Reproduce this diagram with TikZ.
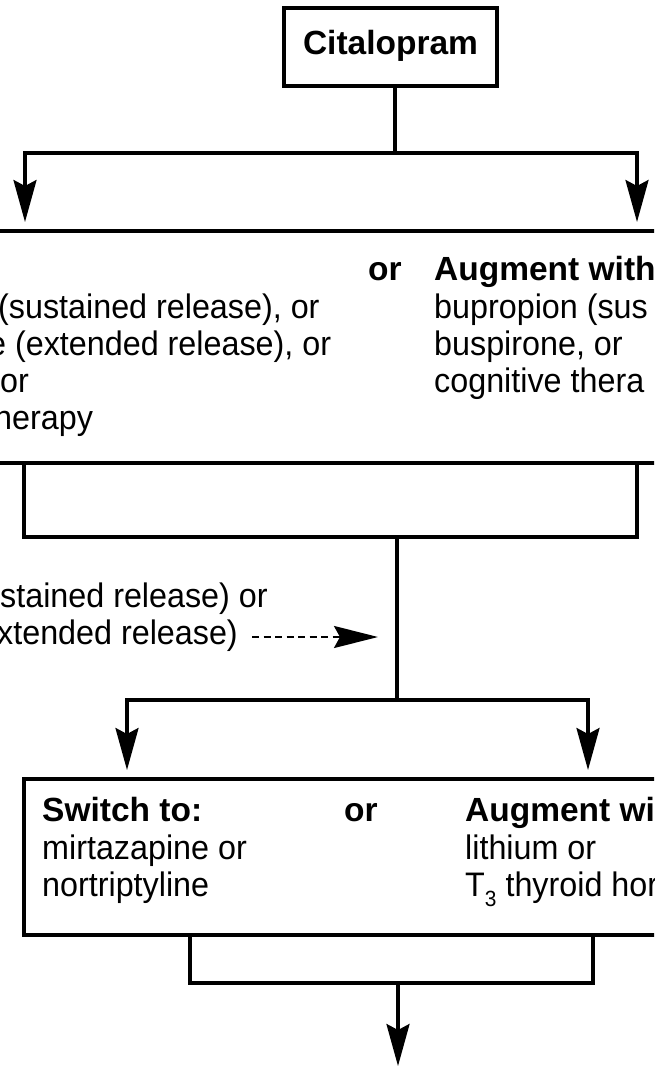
\documentclass[tikz,border=0pt]{standalone}
\usepackage{fontspec}
\setmainfont{Liberation Sans}[FakeStretch=0.95]
\newfontfamily\boldsans{Liberation Sans Bold}
\usetikzlibrary{arrows.meta}
\tikzset{
  box/.style={draw, line width=3.2pt, rectangle, inner sep=0pt},
  flow/.style={line width=3.2pt},
  arr/.style={flow, -{Stealth[length=42pt, width=23pt, inset=6pt]}},
  darr/.style={line width=2.5pt, dash pattern=on 7pt off 4.5pt, -{Stealth[length=44pt, width=22pt, inset=6pt]}},
  txt/.style={anchor=base west, inner sep=0pt, font=\fontsize{34}{37}\selectfont},
  btxt/.style={anchor=base west, inner sep=0pt, font=\fontsize{33.5}{37}\selectfont\boldsans},
}
\begin{document}
\begin{tikzpicture}[x=1pt, y=-1pt]
\path[use as bounding box] (0,0) rectangle (654,1067);
\clip (0,0) rectangle (654,1067);
% boxes
\node[box, minimum width=213pt, minimum height=78pt] (cit) at (390.5,47) {};
\node[anchor=center, inner sep=0pt, font=\fontsize{33.5}{37}\selectfont\boldsans] (citt) at (390.5,46) {Citalopram};
\node[box, minimum width=1100pt, minimum height=232pt] (box1) at (350,347) {};
\node[box, minimum width=876pt, minimum height=156pt] (box2) at (462,857) {};
% junction coordinates
\coordinate (j1) at (395,153);
\coordinate (l1) at (25,153);
\coordinate (r1) at (637,153);
\coordinate (l1t) at (25,222);
\coordinate (r1t) at (637,222);
\coordinate (bl) at (24,537);
\coordinate (br) at (637,537);
\coordinate (j2) at (397,537);
\coordinate (j3) at (397,700);
\coordinate (l2) at (127,700);
\coordinate (r2) at (588,700);
\coordinate (l2t) at (127,770);
\coordinate (r2t) at (588,770);
\coordinate (cl) at (190,983);
\coordinate (cr) at (593,983);
\coordinate (c3) at (398,983);
\coordinate (end) at (398,1066);
\coordinate (ds) at (252,637);
\coordinate (de) at (378,637);
% connectors
\draw[flow] (cit.south -| j1) -- (j1);
\draw[arr] (j1) -- (l1) -- (l1t);
\draw[arr] (j1) -- (r1) -- (r1t);
\draw[flow] (box1.south -| bl) -- (bl) -- (br) -- (box1.south -| br);
\draw[flow] (j2) -- (j3);
\draw[arr] (j3) -- (l2) -- (l2t);
\draw[arr] (j3) -- (r2) -- (r2t);
\draw[flow] (box2.south -| cl) -- (cl) -- (cr) -- (box2.south -| cr);
\draw[arr] (c3) -- (end);
\draw[darr] (ds) -- (de);
% box1 texts
\node[btxt] (or1) at (368,280) {or};
\node[btxt] (aug1) at (434,280) {Augment with};
\node[txt] (s1) at (-2,318) {(sustained release), or};
\node[txt] (s2) at (-12,355) {e (extended release), or};
\node[txt] (s3) at (0,392) {or};
\node[txt] (s4) at (-6,429) {herapy};
\node[txt] (a1) at (434,318) {bupropion (sus};
\node[txt] (a2) at (434,355) {buspirone, or};
\node[txt] (a3) at (434,392) {cognitive thera};
% middle text
\node[txt] (m1) at (0,607) {stained release) or};
\node[txt] (m2) at (-3,644) {xtended release)};
% box2 texts
\node[btxt] (sw) at (42,821) {Switch to:};
\node[btxt] (or2) at (344,821) {or};
\node[btxt] (aug2) at (465,821) {Augment wi};
\node[txt] (b1) at (42,859) {mirtazapine or};
\node[txt] (b2) at (42,896) {nortriptyline};
\node[txt] (c1) at (465,859) {lithium or};
\node[txt] (c2) at (465,896) {T\raisebox{-0.32em}{\fontsize{22}{22}\selectfont 3} thyroid hor};
\end{tikzpicture}
\end{document}
